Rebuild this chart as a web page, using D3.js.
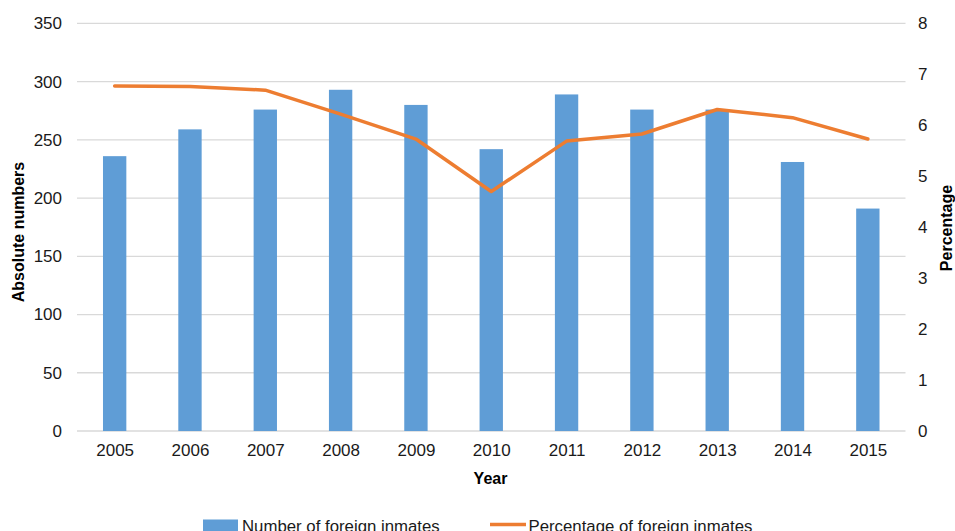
<!DOCTYPE html>
<html><head><meta charset="utf-8">
<script src="https://cdn.jsdelivr.net/npm/d3@7"></script>
<style>body{margin:0;background:#fff;overflow:hidden}</style>
</head><body>
<svg id="c" width="955" height="531"></svg>
<script>
const years = ["2005","2006","2007","2008","2009","2010","2011","2012","2013","2014","2015"];
const inmates = [236, 259, 276, 293, 280, 242, 289, 276, 276, 231, 191];
const percentage = [6.77, 6.76, 6.69, 6.22, 5.73, 4.70, 5.69, 5.83, 6.31, 6.15, 5.73];
const leftTicks = [0, 50, 100, 150, 200, 250, 300, 350];
const rightTicks = [0, 1, 2, 3, 4, 5, 6, 7, 8];

const svg = d3.select("#c");
const L = 77, R = 905.5, T = 23.4, B = 431;
const x = d3.scaleBand().domain(years).range([L, R]).paddingInner(0.69).paddingOuter(0.345);
const xc = d3.scalePoint().domain(years).range([L, R]).padding(0.5);
const yL = d3.scaleLinear().domain([0, 350]).range([B, T]);
const yR = d3.scaleLinear().domain([0, 8]).range([B, T]);
const font = "'Liberation Sans', Arial, sans-serif";

// gridlines
svg.append("g").selectAll("line").data(leftTicks).join("line")
  .attr("x1", L).attr("x2", R).attr("y1", d => yL(d)).attr("y2", d => yL(d))
  .attr("stroke", "#d9d9d9").attr("stroke-width", 1.3);

// left axis labels
const gl = svg.append("g").attr("transform", `translate(${L},0)`)
  .call(d3.axisLeft(yL).tickValues(leftTicks).tickSize(0).tickPadding(15));
gl.select(".domain").remove();
gl.selectAll("text").attr("font-family", font).attr("font-size", 17).attr("fill", "#1a1a1a");

// right axis labels
const gr = svg.append("g").attr("transform", `translate(${R},0)`)
  .call(d3.axisRight(yR).tickValues(rightTicks).tickSize(0).tickPadding(12.5));
gr.select(".domain").remove();
gr.selectAll("text").attr("font-family", font).attr("font-size", 17).attr("fill", "#1a1a1a");

// x axis
const gx = svg.append("g").attr("transform", `translate(0,${B})`)
  .call(d3.axisBottom(xc).tickSize(0).tickPadding(13));
gx.select(".domain").remove();
gx.selectAll("text").attr("font-family", font).attr("font-size", 17).attr("fill", "#1a1a1a");

// bars
svg.append("g").selectAll("rect").data(years).join("rect")
  .attr("x", (d) => x(d)).attr("width", x.bandwidth())
  .attr("y", (d, i) => yL(inmates[i])).attr("height", (d, i) => B - yL(inmates[i]))
  .attr("fill", "#5f9dd6");

// line
const line = d3.line().x((d, i) => xc(years[i])).y(d => yR(d));
svg.append("path").datum(percentage).attr("d", line)
  .attr("fill", "none").attr("stroke", "#ed7d31").attr("stroke-width", 3.5)
  .attr("stroke-linejoin", "round").attr("stroke-linecap", "round");

// axis titles
svg.append("text").attr("transform", "translate(23.5,232) rotate(-90)")
  .attr("text-anchor", "middle").attr("font-family", font).attr("font-weight", "bold")
  .attr("font-size", 16).attr("fill", "#000").text("Absolute numbers");
svg.append("text").attr("transform", "translate(952,228) rotate(-90)")
  .attr("text-anchor", "middle").attr("font-family", font).attr("font-weight", "bold")
  .attr("font-size", 16).attr("fill", "#000").text("Percentage");
svg.append("text").attr("x", 490.5).attr("y", 484)
  .attr("text-anchor", "middle").attr("font-family", font).attr("font-weight", "bold")
  .attr("font-size", 16).attr("fill", "#000").text("Year");

// legend
const lg = svg.append("g");
lg.append("rect").attr("x", 203).attr("y", 519.5).attr("width", 35).attr("height", 12).attr("fill", "#5f9dd6");
lg.append("text").attr("x", 242).attr("y", 532).attr("font-family", font).attr("font-size", 16.8)
  .attr("fill", "#1a1a1a").text("Number of foreign inmates");
lg.append("line").attr("x1", 490).attr("x2", 526).attr("y1", 524.5).attr("y2", 524.5)
  .attr("stroke", "#ed7d31").attr("stroke-width", 3.5);
lg.append("text").attr("x", 528.5).attr("y", 532).attr("font-family", font).attr("font-size", 16.8)
  .attr("fill", "#1a1a1a").text("Percentage of foreign inmates");
</script>
</body></html>
